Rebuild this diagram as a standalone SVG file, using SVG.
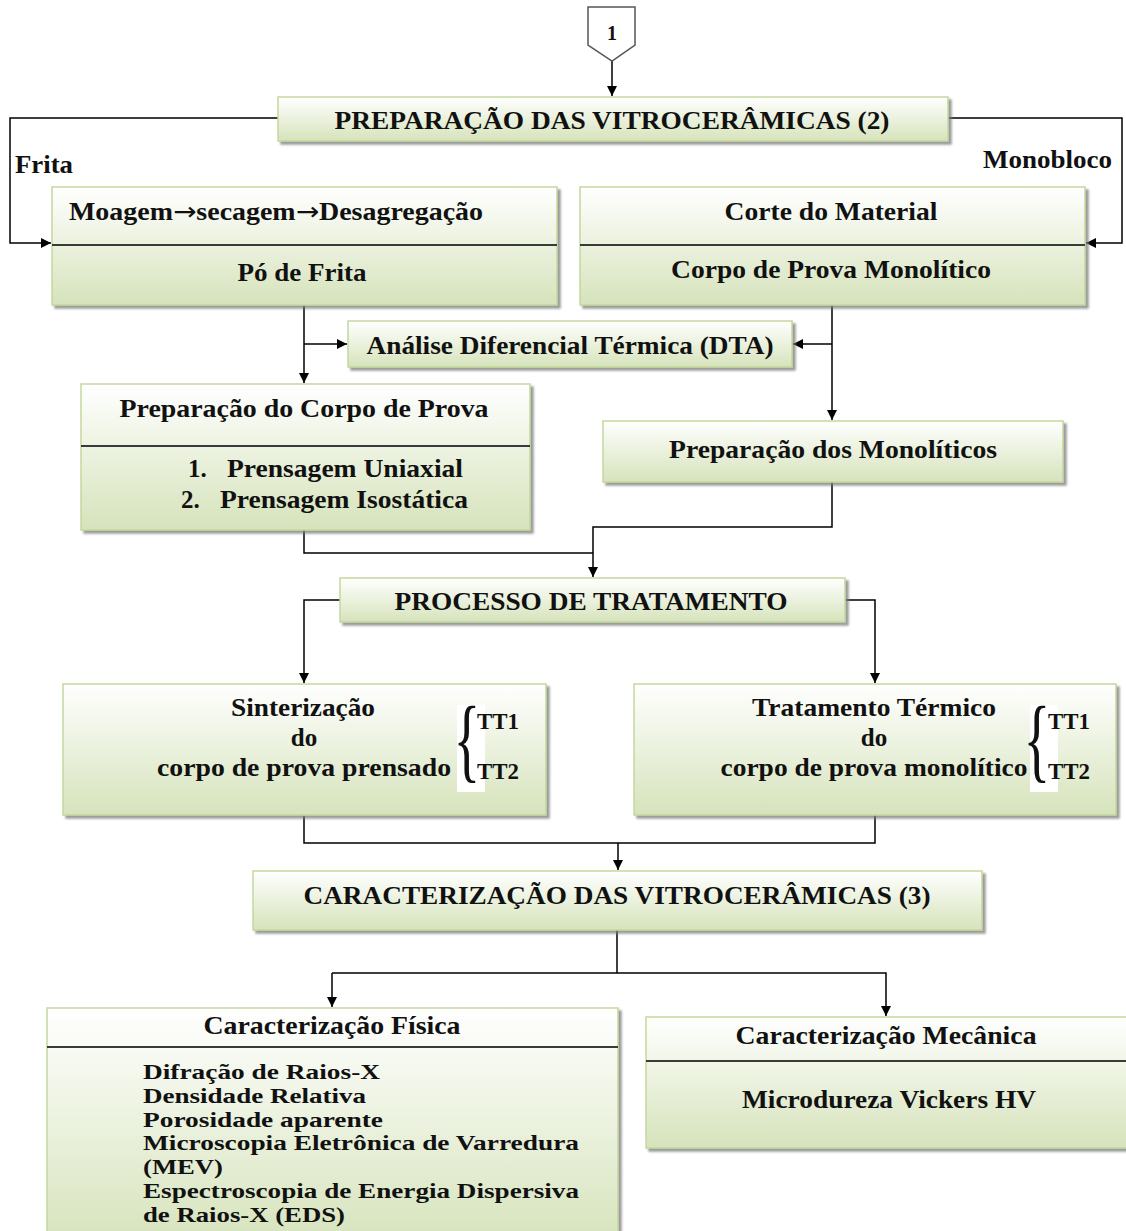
<svg xmlns="http://www.w3.org/2000/svg" width="1126" height="1231" viewBox="0 0 1126 1231">
<defs>
<linearGradient id="g" x1="0" y1="0" x2="0" y2="1">
<stop offset="0" stop-color="#ffffff"/>
<stop offset="1" stop-color="#d6e3bb"/>
</linearGradient>
<filter id="sh" x="-5%" y="-10%" width="115%" height="130%">
<feDropShadow dx="3" dy="3" stdDeviation="1" flood-color="#7a7a7a" flood-opacity="0.75"/>
</filter>
<marker id="ah" viewBox="0 0 10 10" refX="10" refY="5" markerWidth="10" markerHeight="10" markerUnits="userSpaceOnUse" orient="auto">
<path d="M0,0 L10,5 L0,10 z" fill="#000"/>
</marker>
<style>
.box{fill:url(#g);stroke:#c4d79e;stroke-width:1.5;filter:url(#sh)}
.div{stroke:#3a3a3a;stroke-width:2}
.t{font-family:"Liberation Serif","Times New Roman",serif;font-weight:bold;font-size:25px;fill:#111}
.c{text-anchor:middle}
.l{font-size:22px}
.con{fill:none;stroke:#000;stroke-width:1.5}
.arr{marker-end:url(#ah)}
.wb{fill:#fff}
.ar{font-family:"DejaVu Sans",sans-serif;font-weight:normal}
.br{font-family:"Liberation Serif","Times New Roman",serif;font-weight:normal;font-size:93px;fill:#111;text-anchor:middle}
</style>
</defs>
<rect width="1126" height="1231" fill="#fff"/>

<g id="connectors">
<line class="con arr" x1="612" y1="61" x2="612" y2="96"/>
<polyline class="con arr" points="278,118 10,118 10,243 51,243"/>
<polyline class="con arr" points="948,118 1122,118 1122,243 1086,243"/>
<line class="con arr" x1="304" y1="305" x2="304" y2="383"/>
<line class="con arr" x1="304" y1="344" x2="347" y2="344"/>
<line class="con arr" x1="832" y1="305" x2="832" y2="420"/>
<line class="con arr" x1="832" y1="344" x2="793" y2="344"/>
<polyline class="con" points="304,530 304,553 593,553"/>
<polyline class="con arr" points="832,482 832,527 593,527 593,577"/>
<polyline class="con arr" points="340,600 304,600 304,683"/>
<polyline class="con arr" points="845,600 875,600 875,683"/>
<polyline class="con" points="304,815 304,843 875,843 875,815"/>
<line class="con arr" x1="618" y1="843" x2="618" y2="870"/>
<line class="con" x1="617" y1="930" x2="617" y2="973"/>
<polyline class="con arr" points="332,973 332,1007"/>
<polyline class="con arr" points="332,973 886,973 886,1016"/>
</g>

<g id="n1">
<polygon points="588,7 635,7 635,45 612,61 588,45" fill="#fff" stroke="#555" stroke-width="1.5"/>
<text class="t c" x="612" y="40" style="font-size:20px" fill="#1d1d4a">1</text>
</g>

<g id="prep">
<rect class="box" x="278" y="97" width="670" height="44"/>
<text class="t c" x="612" y="129" textLength="555" lengthAdjust="spacingAndGlyphs">PREPARAÇÃO DAS VITROCERÂMICAS (2)</text>
</g>

<g id="lbl-frita"><text class="t" x="15" y="173" textLength="58" lengthAdjust="spacingAndGlyphs">Frita</text></g>
<g id="lbl-mono"><text class="t" x="983" y="168" textLength="129" lengthAdjust="spacingAndGlyphs">Monobloco</text></g>

<g id="frita">
<rect class="box" x="52" y="187" width="505" height="118"/>
<line class="div" x1="52" y1="245" x2="557" y2="245"/>
<text class="t" x="69" y="220" textLength="414" lengthAdjust="spacingAndGlyphs">Moagem<tspan class="ar">→</tspan>secagem<tspan class="ar">→</tspan>Desagregação</text>
<text class="t c" x="302" y="281" textLength="129" lengthAdjust="spacingAndGlyphs">Pó de Frita</text>
</g>

<g id="mono">
<rect class="box" x="580" y="187" width="505" height="118"/>
<line class="div" x1="580" y1="245" x2="1085" y2="245"/>
<text class="t c" x="831" y="220" textLength="213" lengthAdjust="spacingAndGlyphs">Corte do Material</text>
<text class="t c" x="831" y="278" textLength="320" lengthAdjust="spacingAndGlyphs">Corpo de Prova Monolítico</text>
</g>

<g id="dta">
<rect class="box" x="348" y="321" width="444" height="46"/>
<text class="t c" x="570" y="354" textLength="407" lengthAdjust="spacingAndGlyphs">Análise Diferencial Térmica (DTA)</text>
</g>

<g id="prepcorpo">
<rect class="box" x="81" y="384" width="449" height="146"/>
<line class="div" x1="81" y1="446" x2="530" y2="446"/>
<text class="t c" x="304" y="417" textLength="369" lengthAdjust="spacingAndGlyphs">Preparação do Corpo de Prova</text>
<text class="t" x="188" y="477">1.</text>
<text class="t" x="227" y="477" textLength="236" lengthAdjust="spacingAndGlyphs">Prensagem Uniaxial</text>
<text class="t" x="181" y="508">2.</text>
<text class="t" x="220" y="508" textLength="248" lengthAdjust="spacingAndGlyphs">Prensagem Isostática</text>
</g>

<g id="prepmono">
<rect class="box" x="603" y="421" width="460" height="61"/>
<text class="t c" x="833" y="458" textLength="328" lengthAdjust="spacingAndGlyphs">Preparação dos Monolíticos</text>
</g>

<g id="processo">
<rect class="box" x="340" y="578" width="505" height="44"/>
<text class="t c" x="591" y="610" textLength="393" lengthAdjust="spacingAndGlyphs">PROCESSO DE TRATAMENTO</text>
</g>

<g id="sinter">
<rect class="box" x="63" y="684" width="483" height="131"/>
<text class="t c" x="303" y="716" textLength="144" lengthAdjust="spacingAndGlyphs">Sinterização</text>
<text class="t c" x="304" y="746">do</text>
<text class="t c" x="304" y="776" textLength="294" lengthAdjust="spacingAndGlyphs">corpo de prova prensado</text>
<rect class="wb" x="457" y="705" width="28" height="87"/>
<text class="br" transform="translate(467,771) scale(0.6,1)">{</text>
<text class="t" x="477" y="729" style="font-size:23px" textLength="42" lengthAdjust="spacingAndGlyphs">TT1</text>
<text class="t" x="477" y="779" style="font-size:23px" textLength="42" lengthAdjust="spacingAndGlyphs">TT2</text>
</g>

<g id="tratamento">
<rect class="box" x="634" y="684" width="482" height="131"/>
<text class="t c" x="874" y="716" textLength="244" lengthAdjust="spacingAndGlyphs">Tratamento Térmico</text>
<text class="t c" x="874" y="746">do</text>
<text class="t c" x="874" y="776" textLength="307" lengthAdjust="spacingAndGlyphs">corpo de prova monolítico</text>
<rect class="wb" x="1030" y="705" width="28" height="87"/>
<text class="br" transform="translate(1037,771) scale(0.6,1)">{</text>
<text class="t" x="1048" y="729" style="font-size:23px" textLength="42" lengthAdjust="spacingAndGlyphs">TT1</text>
<text class="t" x="1048" y="779" style="font-size:23px" textLength="42" lengthAdjust="spacingAndGlyphs">TT2</text>
</g>

<g id="carac">
<rect class="box" x="253" y="871" width="729" height="59"/>
<text class="t c" x="617" y="904" textLength="627" lengthAdjust="spacingAndGlyphs">CARACTERIZAÇÃO DAS VITROCERÂMICAS (3)</text>
</g>

<g id="fisica">
<rect class="box" x="47" y="1008" width="571" height="240"/>
<line class="div" x1="47" y1="1047" x2="618" y2="1047"/>
<text class="t c" x="332" y="1034" textLength="257" lengthAdjust="spacingAndGlyphs">Caracterização Física</text>
<text class="t l" x="143" y="1079" textLength="237" lengthAdjust="spacingAndGlyphs">Difração de Raios-X</text>
<text class="t l" x="143" y="1103" textLength="223" lengthAdjust="spacingAndGlyphs">Densidade Relativa</text>
<text class="t l" x="143" y="1127" textLength="240" lengthAdjust="spacingAndGlyphs">Porosidade aparente</text>
<text class="t l" x="143" y="1150" textLength="436" lengthAdjust="spacingAndGlyphs">Microscopia Eletrônica de Varredura</text>
<text class="t l" x="143" y="1174" textLength="80" lengthAdjust="spacingAndGlyphs">(MEV)</text>
<text class="t l" x="143" y="1198" textLength="436" lengthAdjust="spacingAndGlyphs">Espectroscopia de Energia Dispersiva</text>
<text class="t l" x="143" y="1222" textLength="202" lengthAdjust="spacingAndGlyphs">de Raios-X (EDS)</text>
</g>

<g id="mecanica">
<rect class="box" x="646" y="1017" width="490" height="131"/>
<line class="div" x1="646" y1="1061" x2="1136" y2="1061"/>
<text class="t c" x="886" y="1044" textLength="301" lengthAdjust="spacingAndGlyphs">Caracterização Mecânica</text>
<text class="t c" x="889" y="1108" textLength="294" lengthAdjust="spacingAndGlyphs">Microdureza Vickers HV</text>
</g>
</svg>
